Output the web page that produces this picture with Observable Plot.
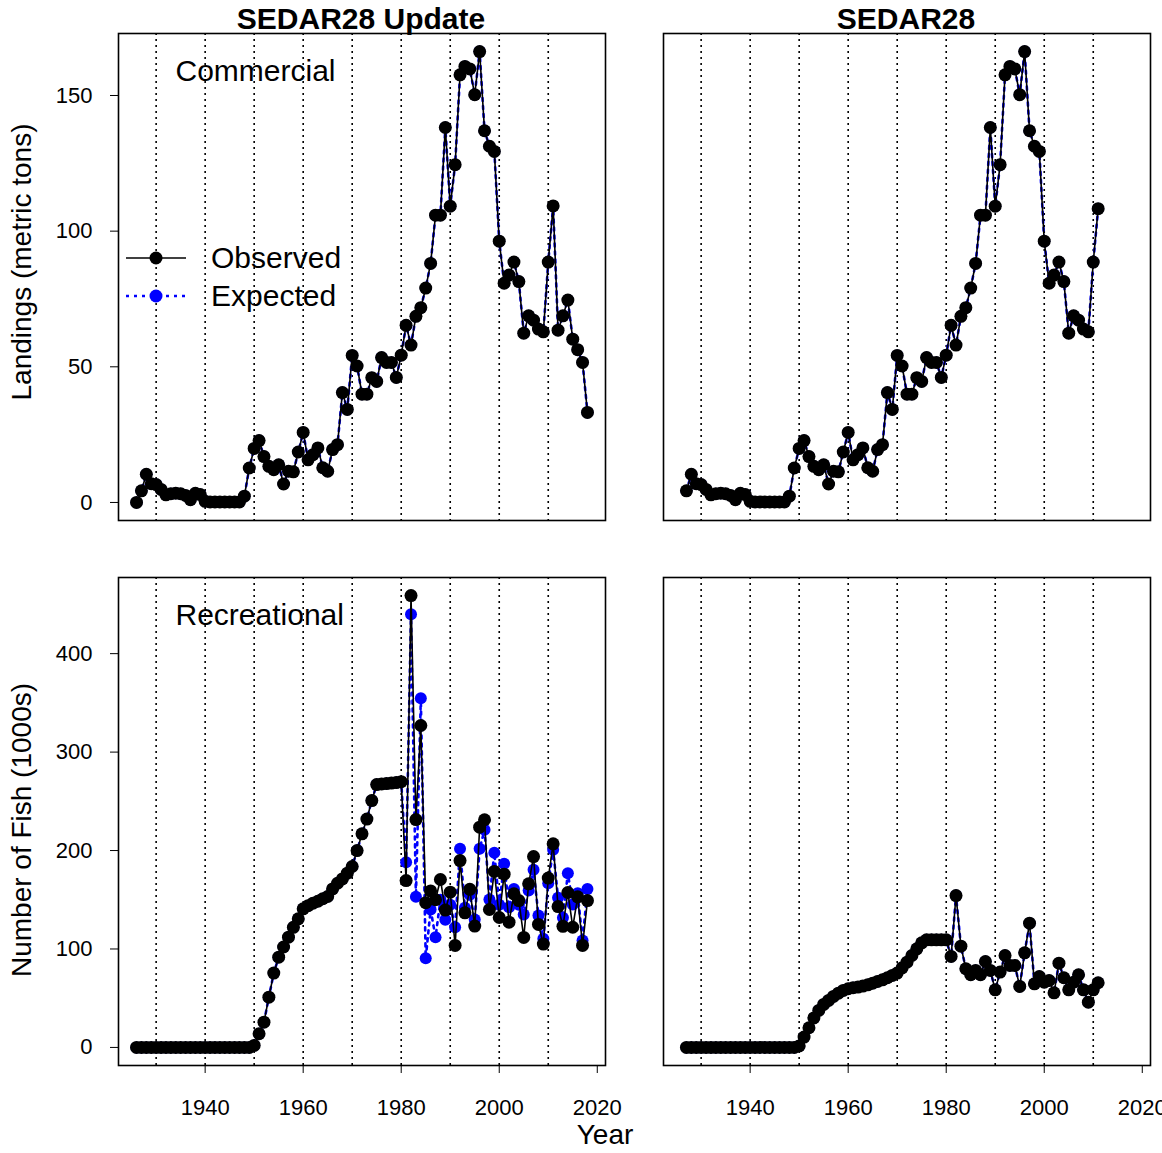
<!DOCTYPE html>
<html>
<head>
<meta charset="utf-8">
<script src="https://cdn.jsdelivr.net/npm/d3@7"></script>
<script src="https://cdn.jsdelivr.net/npm/@observablehq/plot@0.6"></script>
<style>
html, body { margin: 0; padding: 0; background: #fff; overflow: hidden; }
#fig { position: relative; width: 1162px; height: 1153px; font-family: "Liberation Sans", Arial, Helvetica, sans-serif; color: #000; overflow: hidden; }
.abs { position: absolute; }
.lbl { position: absolute; white-space: nowrap; transform: translate(-50%, -50%); line-height: 1; }
.title { font-weight: bold; font-size: 30px; }
.axtitle { font-size: 28px; }
.rot { transform: translate(-50%, -50%) rotate(-90deg); }
.legtext { position: absolute; font-size: 30px; white-space: nowrap; line-height: 1; transform: translateY(-50%); }
</style>
</head>
<body>
<div id="fig"></div>
<script>
// ---------------- data ----------------
const commUpdateStart = 1926;
const commUpdateObs = [
  0, 4.3, 10.4, 6.9, 6.6, 4.8, 2.8, 3.2, 3.4, 3.2, 2.6, 1.0, 3.4, 2.9,
  0.4, 0.2, 0.2, 0.2, 0.2, 0.2, 0.2, 0.2, 2.3, 12.7,
  19.9, 22.8, 16.9, 13.3, 12.1, 13.9, 6.8, 11.5, 11.3, 18.6,
  25.8, 15.7, 17.6, 20.1, 12.8, 11.5, 19.5, 21.3, 40.5, 34.3,
  54.2, 50.3, 39.9, 39.9, 46.0, 44.6, 53.4, 51.6, 51.6, 46.1,
  54.3, 65.3, 58.0, 68.6, 71.8, 79.0, 88.1, 105.9, 105.9, 138.2,
  109.2, 124.5, 157.6, 160.7, 159.8, 150.3, 166.2, 137.0, 131.3, 129.4,
  96.3, 80.8, 83.8, 88.6, 81.4, 62.4, 68.8, 67.2, 63.9, 62.9,
  88.6, 109.3, 63.5, 68.8, 74.6, 60.2, 56.3, 51.6, 33.2
];
const commUpdateExp = commUpdateObs;

const commS28Start = 1927;
const commS28Obs = [
  4.3, 10.4, 6.9, 6.6, 4.8, 2.8, 3.2, 3.4, 3.2, 2.6, 1.0, 3.4, 2.9,
  0.4, 0.2, 0.2, 0.2, 0.2, 0.2, 0.2, 0.2, 2.3, 12.7,
  19.9, 22.8, 16.9, 13.3, 12.1, 13.9, 6.8, 11.5, 11.3, 18.6,
  25.8, 15.7, 17.6, 20.1, 12.8, 11.5, 19.5, 21.3, 40.5, 34.3,
  54.2, 50.3, 39.9, 39.9, 46.0, 44.6, 53.4, 51.6, 51.6, 46.1,
  54.3, 65.3, 58.0, 68.6, 71.8, 79.0, 88.1, 105.9, 105.9, 138.2,
  109.2, 124.5, 157.6, 160.7, 159.8, 150.3, 166.2, 137.0, 131.3, 129.4,
  96.3, 80.8, 83.8, 88.6, 81.4, 62.4, 68.8, 67.2, 63.9, 62.9,
  88.6, 108.3
];
const commS28Exp = commS28Obs;

const recUpdateStart = 1926;
const recUpdateObs = [
  0, 0, 0, 0, 0, 0, 0, 0, 0, 0, 0, 0, 0, 0,
  0, 0, 0, 0, 0, 0, 0, 0, 0, 0,
  2, 13.9, 25.7, 51, 75.5, 91.7, 102, 112, 122, 130.6,
  140.8, 144, 146.5, 148.5, 151, 153.3, 161, 166.8, 171.2, 177,
  183.8, 200, 217, 232, 250.8, 267, 267.7, 268, 268.5, 269,
  270, 169.5, 459, 231.5, 327, 147, 159, 150, 170.6, 139.5,
  157.7, 103.6, 189.8, 136.7, 160.6, 123.3, 223.7, 231.3, 140.1, 178.8,
  132, 176, 127.2, 156, 149.2, 111.7, 166.2, 193.9, 124.9, 105,
  172, 206.8, 143.1, 123, 157.4, 122.1, 153, 103.6, 149.2
];
const recUpdateExp = [
  0, 0, 0, 0, 0, 0, 0, 0, 0, 0, 0, 0, 0, 0,
  0, 0, 0, 0, 0, 0, 0, 0, 0, 0,
  2, 13.9, 25.7, 51, 75.5, 91.7, 102, 112, 122, 130.6,
  140.8, 144, 146.5, 148.5, 151, 153.3, 161, 166.8, 171.2, 177,
  183.8, 200, 217, 232, 250.8, 267, 267.7, 268, 268.5, 269,
  270, 188, 440, 153, 354.6, 90.5, 140, 112, 150, 129.6,
  145, 122, 201.7, 142, 155, 130, 201.7, 221, 150.3, 197.7,
  145, 186.5, 142.5, 161, 145, 135, 159.4, 180.4, 134, 110.4,
  166.8, 200.7, 152, 131.7, 177, 145.2, 156.6, 108.6, 161
];

const recS28Start = 1927;
const recS28Obs = [
  0, 0, 0, 0, 0, 0, 0, 0, 0, 0, 0, 0, 0,
  0, 0, 0, 0, 0, 0, 0, 0, 0, 0,
  1.5, 10.5, 20, 30, 37.6, 43.7, 47.7, 51.8, 55.1, 57.9,
  59.6, 60.6, 61.3, 62.3, 63.6, 65.3, 67, 68.7, 70.8, 73.1,
  75.5, 80.9, 86.6, 93.4, 100.2, 106.3, 109.3, 109.3, 109.3, 109.3,
  109.3, 92.4, 154.3, 102.9, 79.9, 73.8, 78.2, 73.8, 87.3, 78.2,
  58.5, 76.5, 93.4, 83.2, 83.2, 62, 96.1, 126.2, 64.6, 72,
  66.3, 68, 55.5, 85.6, 70.8, 58.5, 66.3, 73.8, 58.5, 46,
  58.5, 65.7
];
const recS28Exp = recS28Obs;

const gridYears = [1930, 1940, 1950, 1960, 1970, 1980, 1990, 2000, 2010];
const yearTicks = [1940, 1960, 1980, 2000, 2020];
const commTicks = [0, 50, 100, 150];
const recTicks = [0, 100, 200, 300, 400];

const panelTitles = ["SEDAR28 Update", "SEDAR28"];
const fleetLabels = ["Commercial", "Recreational"];
const yTitles = ["Landings (metric tons)", "Number of Fish (1000s)"];
const xTitle = "Year";
const legendLabels = ["Observed", "Expected"];

// ---------------- helpers ----------------
const FONT = '"Liberation Sans", Arial, Helvetica, sans-serif';
const OBS = "#000000";
const EXP = "#0000ff";
const xDomain = [1922.32, 2021.68];
const commDomain = [-6.65, 172.85];
const recDomain = [-18.36, 477.36];

function rows(start, values) {
  return values.map((v, i) => ({year: start + i, value: v}));
}

function panel(o) {
  const marks = [
    Plot.ruleX(gridYears, {stroke: "#000", strokeWidth: 1.6, strokeDasharray: "2,4"}),
    Plot.line(o.exp, {x: "year", y: "value", stroke: EXP, strokeWidth: 2.6, strokeDasharray: "3,5"}),
    Plot.dot(o.exp, {x: "year", y: "value", fill: EXP, r: 6}),
    Plot.line(o.obs, {x: "year", y: "value", stroke: OBS, strokeWidth: 1.6}),
    Plot.dot(o.obs, {x: "year", y: "value", fill: OBS, r: 6.5}),
    Plot.frame({stroke: "#000", strokeWidth: 1.6})
  ];
  if (o.yTicks) marks.push(Plot.axisY({ticks: o.yTicks, tickSize: 8, tickPadding: 18, label: null, fontSize: 22, tickFormat: d => String(d)}));
  if (o.xAxis) marks.push(Plot.axisX({ticks: yearTicks, tickSize: 8, tickPadding: 26, label: null, fontSize: 22, tickFormat: d => String(d)}));
  if (o.text) marks.push(Plot.text([o.text], {frameAnchor: "top-left", dx: 57, dy: o.textDy, lineAnchor: "middle", textAnchor: "start", fontSize: 30, fill: "#000"}));
  return Plot.plot({
    width: o.width, height: o.height,
    marginLeft: o.ml, marginRight: o.mr, marginTop: o.mt, marginBottom: o.mb,
    x: {domain: xDomain, axis: null},
    y: {domain: o.yDomain, axis: null},
    style: {fontFamily: FONT, color: "#000", background: "transparent", overflow: "visible"},
    marks
  });
}

function place(el, left, top) {
  const d = document.createElement("div");
  d.className = "abs";
  d.style.left = left + "px";
  d.style.top = top + "px";
  d.appendChild(el);
  fig.appendChild(d);
}

function label(text, cls, x, y) {
  const d = document.createElement("div");
  d.className = "lbl " + cls;
  d.style.left = x + "px";
  d.style.top = y + "px";
  d.textContent = text;
  fig.appendChild(d);
}

const fig = document.getElementById("fig");

// ---------------- panels ----------------
place(panel({obs: rows(commUpdateStart, commUpdateObs), exp: rows(commUpdateStart, commUpdateExp),
  yDomain: commDomain, yTicks: commTicks, text: fleetLabels[0], textDy: 38,
  width: 620, height: 540, ml: 118, mr: 15, mt: 33, mb: 20}), 0, 0);
place(panel({obs: rows(commS28Start, commS28Obs), exp: rows(commS28Start, commS28Exp),
  yDomain: commDomain,
  width: 542, height: 540, ml: 43, mr: 12, mt: 33, mb: 20}), 620, 0);
place(panel({obs: rows(recUpdateStart, recUpdateObs), exp: rows(recUpdateStart, recUpdateExp),
  yDomain: recDomain, yTicks: recTicks, xAxis: true, text: fleetLabels[1], textDy: 38,
  width: 620, height: 613, ml: 118, mr: 15, mt: 37, mb: 88}), 0, 540);
place(panel({obs: rows(recS28Start, recS28Obs), exp: rows(recS28Start, recS28Exp),
  yDomain: recDomain, xAxis: true,
  width: 542, height: 613, ml: 43, mr: 12, mt: 37, mb: 88}), 620, 540);

// ---------------- titles ----------------
label(panelTitles[0], "title", 361, 19);
label(panelTitles[1], "title", 906, 19);
label(yTitles[0], "axtitle rot", 22, 262);
label(yTitles[1], "axtitle rot", 22, 830);
label(xTitle, "axtitle", 605, 1135);

// ---------------- legend ----------------
const ns = "http://www.w3.org/2000/svg";
const leg = document.createElementNS(ns, "svg");
leg.setAttribute("width", 80); leg.setAttribute("height", 80);
leg.style.position = "absolute"; leg.style.left = "120px"; leg.style.top = "238px";
[[OBS, null, 20], [EXP, "3,5", 58]].forEach(([c, dash, y]) => {
  const l = document.createElementNS(ns, "line");
  l.setAttribute("x1", 6); l.setAttribute("x2", 66); l.setAttribute("y1", y); l.setAttribute("y2", y);
  l.setAttribute("stroke", c); l.setAttribute("stroke-width", dash ? 2.6 : 1.6);
  if (dash) l.setAttribute("stroke-dasharray", dash);
  leg.appendChild(l);
  const ci = document.createElementNS(ns, "circle");
  ci.setAttribute("cx", 36); ci.setAttribute("cy", y); ci.setAttribute("r", 6.5); ci.setAttribute("fill", c);
  leg.appendChild(ci);
});
fig.appendChild(leg);
legendLabels.forEach((t, i) => {
  const d = document.createElement("div");
  d.className = "legtext";
  d.style.left = "211px";
  d.style.top = (258 + i * 38) + "px";
  d.textContent = t;
  fig.appendChild(d);
});
</script>
</body>
</html>
